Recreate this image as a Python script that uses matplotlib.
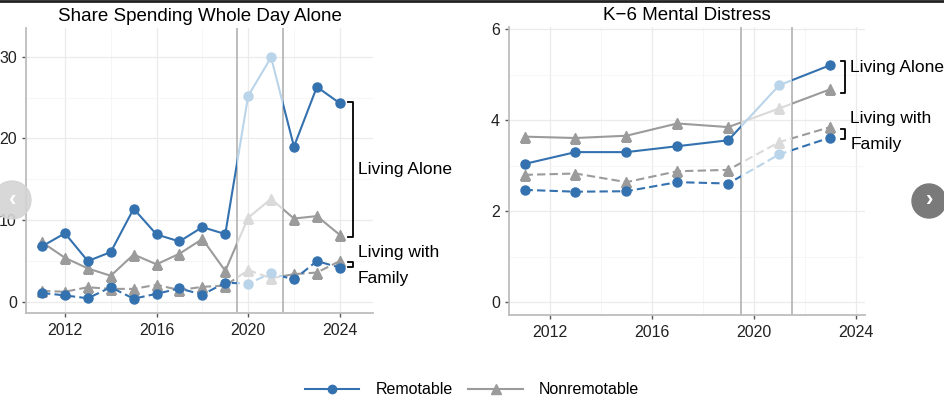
import matplotlib
matplotlib.use("Agg")
import matplotlib.pyplot as plt
import matplotlib.transforms as mtransforms
from matplotlib.path import Path
from matplotlib.lines import Line2D
from matplotlib.patches import Ellipse

plt.rcParams["font.family"] = ["Liberation Sans", "DejaVu Sans"]

# share spending whole day alone (%)
years_share = list(range(2011, 2025))
share_remote_alone = [6.8, 8.4, 5.0, 6.1, 11.4, 8.25, 7.4, 9.15, 8.3, 25.2, 29.9, 19.0, 26.3, 24.3]
share_nonremote_alone = [7.3, 5.4, 4.1, 3.2, 5.8, 4.6, 5.9, 7.7, 3.8, 10.3, 12.6, 10.2, 10.5, 8.2]
share_remote_family = [1.1, 0.8, 0.45, 1.8, 0.4, 1.0, 1.65, 0.9, 2.35, 2.25, 3.5, 2.75, 5.0, 4.2]
share_nonremote_family = [1.35, 1.25, 1.8, 1.6, 1.6, 2.1, 1.45, 1.85, 2.0, 3.9, 2.9, 3.4, 3.6, 5.0]

# K-6 mental distress
years_k6 = [2011, 2013, 2015, 2017, 2019, 2021, 2023]
k6_remote_alone = [3.04, 3.30, 3.30, 3.43, 3.56, 4.77, 5.21]
k6_nonremote_alone = [3.64, 3.61, 3.66, 3.93, 3.85, 4.26, 4.68]
k6_remote_family = [2.47, 2.43, 2.44, 2.64, 2.61, 3.25, 3.62]
k6_nonremote_family = [2.80, 2.83, 2.64, 2.88, 2.91, 3.52, 3.85]

covid_start, covid_end = 2019.5, 2021.5

BLUE = "#3471AF"
BLUE_LIGHT = "#BAD4E9"
GRAY = "#9B9B9B"
GRAY_LIGHT = "#DADADA"


def band_paths(x0, x1):
    def rect(a, b):
        return Path([(a, -1), (b, -1), (b, 2), (a, 2), (a, -1)],
                    [Path.MOVETO, Path.LINETO, Path.LINETO, Path.LINETO, Path.CLOSEPOLY])
    inner = rect(x0, x1)
    outer = Path.make_compound_path(rect(1900, x0), rect(x1, 2100))
    return inner, outer


def draw_series(ax, x, y, dark, light, marker, ls):
    # dark outside the covid window, light inside it
    trans = mtransforms.blended_transform_factory(ax.transData, ax.transAxes)
    inner, outer = band_paths(covid_start, covid_end)
    kw = dict(marker=marker, ms=6.5 if marker == "o" else 7.5, lw=1.5)
    if ls == "--":
        kw["dashes"] = (4, 2)
    l1, = ax.plot(x, y, color=dark, mec=dark, mfc=dark, **kw)
    l1.set_clip_path(outer, trans)
    l2, = ax.plot(x, y, color=light, mec=light, mfc=light, **kw)
    l2.set_clip_path(inner, trans)


def bracket(ax, x, y0, y1, dx):
    ax.plot([x - dx, x, x, x - dx], [y0, y0, y1, y1], color="black", lw=1.3, clip_on=False)


def style_axes(ax, title):
    ax.set_title(title, fontsize=13.5, pad=5)
    for s in ["top", "right"]:
        ax.spines[s].set_visible(False)
    for s in ["left", "bottom"]:
        ax.spines[s].set_color("#BDBDBD")
        ax.spines[s].set_linewidth(1.3)
    ax.tick_params(colors="#555555", labelcolor="#222222", labelsize=11.5, length=3, width=1)
    ax.tick_params(axis="x", pad=4.5)
    ax.grid(which="major", color="#EBEBEB", lw=0.9)
    ax.grid(which="minor", color="#F5F5F5", lw=0.6)
    ax.tick_params(which="minor", length=0)
    ax.set_axisbelow(True)
    ax.axvline(covid_start, color="#B8B8B8", lw=1.3, zorder=1)
    ax.axvline(covid_end, color="#B8B8B8", lw=1.3, zorder=1)


fig = plt.figure(figsize=(9.44, 4.0), dpi=100)

# left panel
ax1 = fig.add_axes([26 / 944, 87 / 400, 347 / 944, 285 / 400])
style_axes(ax1, "Share Spending Whole Day Alone")
draw_series(ax1, years_share, share_nonremote_family, GRAY, GRAY_LIGHT, "^", "--")
draw_series(ax1, years_share, share_remote_family, BLUE, BLUE_LIGHT, "o", "--")
draw_series(ax1, years_share, share_nonremote_alone, GRAY, GRAY_LIGHT, "^", "-")
draw_series(ax1, years_share, share_remote_alone, BLUE, BLUE_LIGHT, "o", "-")
ax1.set_xlim(2010.3, 2025.45)
ax1.set_ylim(-1.35, 33.5)
ax1.set_xticks([2012, 2016, 2020, 2024])
ax1.set_xticks([2014, 2018, 2022], minor=True)
ax1.set_yticks([0, 10, 20, 30])
ax1.set_yticks([5, 15, 25], minor=True)
bx = 2024.57
a0, a1 = share_nonremote_alone[-1], share_remote_alone[-1]
bracket(ax1, bx, a0 - 0.2, a1 + 0.2, 0.22)
ax1.text(bx + 0.22, (a0 + a1) / 2, "Living Alone", fontsize=12.5, va="center", ha="left")
f0, f1 = share_remote_family[-1], share_nonremote_family[-1]
bracket(ax1, bx, f0 + 0.1, f1 - 0.1, 0.22)
ax1.text(bx + 0.22, (f0 + f1) / 2 - 0.1, "Living with\nFamily", fontsize=12.5, va="center",
         ha="left", linespacing=1.9)

# right panel
ax2 = fig.add_axes([509 / 944, 85 / 400, 356 / 944, 288 / 400])
style_axes(ax2, "K\u22126 Mental Distress")
draw_series(ax2, years_k6, k6_nonremote_family, GRAY, GRAY_LIGHT, "^", "--")
draw_series(ax2, years_k6, k6_remote_family, BLUE, BLUE_LIGHT, "o", "--")
draw_series(ax2, years_k6, k6_nonremote_alone, GRAY, GRAY_LIGHT, "^", "-")
draw_series(ax2, years_k6, k6_remote_alone, BLUE, BLUE_LIGHT, "o", "-")
ax2.set_xlim(2010.39, 2024.37)
ax2.set_ylim(-0.28, 6.05)
ax2.set_xticks([2012, 2016, 2020, 2024])
ax2.set_xticks([2014, 2018, 2022], minor=True)
ax2.set_yticks([0, 2, 4, 6])
ax2.set_yticks([1, 3, 5], minor=True)
bx = 2023.57
a0, a1 = k6_nonremote_alone[-1], k6_remote_alone[-1]
bracket(ax2, bx, a0 - 0.07, a1 + 0.09, 0.16)
ax2.text(bx + 0.22, a1 - 0.05, "Living Alone", fontsize=12.5, va="center", ha="left")
f0, f1 = k6_remote_family[-1], k6_nonremote_family[-1]
bracket(ax2, bx, f0 - 0.03, f1 - 0.05, 0.16)
ax2.text(bx + 0.22, (f0 + f1) / 2 + 0.02, "Living with\nFamily", fontsize=12.5, va="center",
         ha="left", linespacing=1.9)

# legend
handles = [
    Line2D([], [], color=BLUE, marker="o", ms=6, lw=1.5),
    Line2D([], [], color=GRAY, marker="^", ms=6.5, lw=1.5),
]
fig.legend(handles, ["Remotable", "Nonremotable"], loc="center", bbox_to_anchor=(0.5, 0.025),
           ncol=2, frameon=False, fontsize=11.5, handlelength=3.4, columnspacing=1.0,
           handletextpad=1.0)

# screenshot border at top and the carousel arrows
fig.add_artist(Line2D([0, 1], [0.998, 0.998], color="#222222", lw=2, transform=fig.transFigure))
fig.add_artist(Ellipse((12 / 944, 0.5), 38 / 944, 38 / 400, transform=fig.transFigure,
                       color="#D4D4D4", alpha=0.9, zorder=10))
fig.text(13 / 944, 0.5, "\u2039", color="white", fontsize=16, ha="center", va="center",
         fontweight="bold", zorder=11)
fig.add_artist(Ellipse((929 / 944, 1 - 201 / 400), 34 / 944, 34 / 400, transform=fig.transFigure,
                       color="#7A7A7A", zorder=10))
fig.text(930 / 944, 1 - 201 / 400, "\u203A", color="white", fontsize=16, ha="center",
         va="center", fontweight="bold", zorder=11)

fig.savefig("out.png", dpi=100)
